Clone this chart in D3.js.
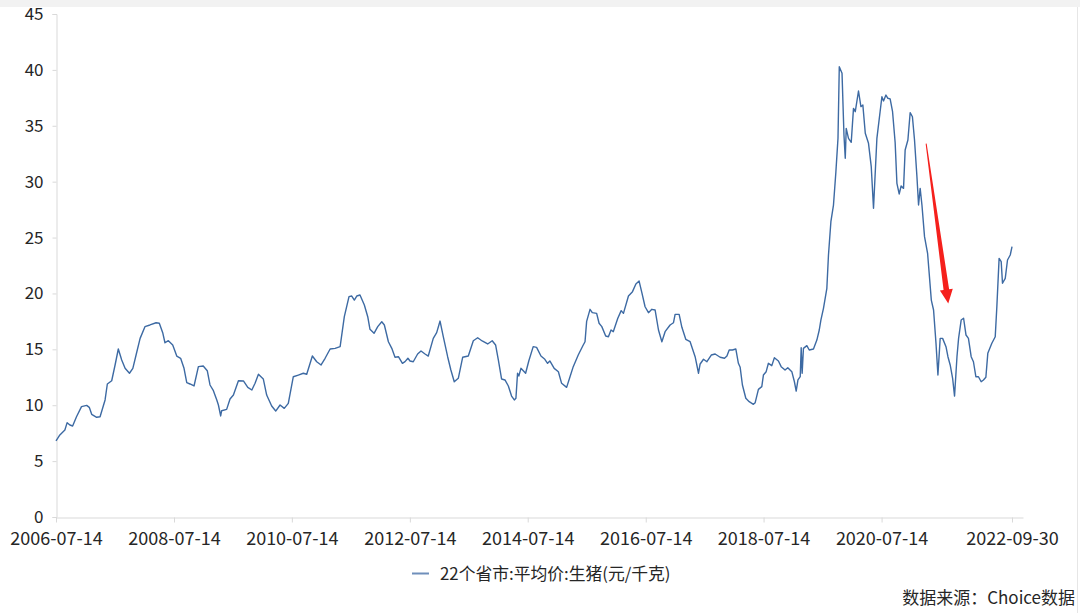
<!DOCTYPE html>
<html><head><meta charset="utf-8">
<script src="https://cdn.jsdelivr.net/npm/d3@7"></script>
<style>body{margin:0;background:#fff}svg{display:block}</style>
</head><body><svg id="c" width="1080" height="613"></svg>
<script>
const dates = [
"2006-07-14","2006-08-07","2006-09-07","2006-09-21","2006-10-08","2006-10-25","2006-11-18","2006-12-19",
"2007-01-20","2007-02-05","2007-02-20","2007-03-23","2007-04-13","2007-05-14","2007-05-28","2007-06-24","2007-07-15","2007-08-04","2007-08-25","2007-09-15","2007-10-12","2007-11-02","2007-11-22","2007-12-17",
"2008-01-16","2008-02-16","2008-03-25","2008-04-14","2008-05-05","2008-05-19","2008-06-09","2008-07-06","2008-07-31","2008-08-24","2008-09-14","2008-10-01","2008-10-21","2008-11-15","2008-12-12",
"2009-01-11","2009-02-05","2009-02-22","2009-03-15","2009-04-05","2009-04-15","2009-04-29","2009-05-05","2009-06-05","2009-06-26","2009-07-17","2009-08-17","2009-09-17","2009-10-14","2009-11-08","2009-11-28","2009-12-19",
"2010-01-18","2010-02-08","2010-03-11","2010-04-05","2010-05-02","2010-05-28","2010-06-22","2010-07-23","2010-08-23","2010-09-23","2010-10-14","2010-11-18","2010-12-15",
"2011-01-11","2011-02-05","2011-03-08","2011-04-08","2011-05-09","2011-06-04","2011-07-03","2011-07-20","2011-08-05","2011-08-20","2011-09-09","2011-10-06","2011-10-27","2011-11-10","2011-12-05","2011-12-28",
"2012-01-22","2012-02-07","2012-03-03","2012-03-24","2012-04-13","2012-05-04","2012-05-29","2012-06-14","2012-07-02","2012-07-15","2012-08-04","2012-08-31","2012-09-21","2012-10-16","2012-11-05","2012-12-06","2012-12-27",
"2013-01-17","2013-02-06","2013-03-05","2013-03-25","2013-04-15","2013-05-10","2013-06-06","2013-07-11","2013-08-11","2013-09-07","2013-10-05","2013-11-08","2013-12-06","2013-12-27",
"2014-01-13","2014-02-02","2014-02-23","2014-03-16","2014-04-05","2014-04-22","2014-05-02","2014-05-12","2014-05-20","2014-06-02","2014-07-01","2014-07-21","2014-08-17","2014-09-07","2014-10-04","2014-10-28","2014-11-14","2014-11-28","2014-12-25",
"2015-01-20","2015-02-09","2015-03-12","2015-04-02","2015-04-22","2015-05-23","2015-06-23","2015-07-04","2015-07-14","2015-08-04","2015-08-18","2015-09-14","2015-09-29","2015-10-16","2015-11-09","2015-11-26","2015-12-12","2015-12-26",
"2016-01-23","2016-02-13","2016-02-27","2016-03-29","2016-04-23","2016-05-14","2016-06-03","2016-06-20","2016-07-10","2016-07-31","2016-08-21","2016-09-10","2016-10-01","2016-10-22","2016-11-11","2016-12-12",
"2017-01-02","2017-01-12","2017-02-06","2017-02-23","2017-03-19","2017-04-15","2017-05-16","2017-06-06","2017-06-16","2017-07-07","2017-07-28","2017-08-24","2017-09-17","2017-10-18","2017-11-14","2017-11-29","2017-12-13",
"2018-01-02","2018-01-23","2018-02-08","2018-02-19","2018-03-05","2018-03-26","2018-04-16","2018-05-12","2018-05-23","2018-06-12","2018-07-03","2018-07-13","2018-07-30","2018-08-13","2018-09-03","2018-09-19","2018-10-14","2018-10-31","2018-11-24","2018-12-11",
"2019-01-05","2019-01-21","2019-02-01","2019-02-12","2019-02-26","2019-03-04","2019-03-10","2019-03-18","2019-04-08","2019-04-23","2019-05-19","2019-06-09","2019-06-24","2019-07-04","2019-07-20","2019-08-10","2019-08-20","2019-09-04","2019-09-20","2019-10-05","2019-10-18","2019-10-26","2019-11-12","2019-11-24","2019-12-02","2019-12-08","2019-12-22",
"2020-01-08","2020-01-22","2020-02-02","2020-02-22","2020-03-08","2020-03-20","2020-04-04","2020-04-24","2020-05-11","2020-05-25","2020-06-15","2020-07-16","2020-07-26","2020-08-10","2020-08-22","2020-09-05","2020-09-20","2020-10-06","2020-10-17","2020-10-31","2020-11-12","2020-11-27","2020-12-07","2020-12-24",
"2021-01-07","2021-01-21","2021-02-03","2021-02-18","2021-02-28","2021-03-10","2021-03-21","2021-04-06","2021-04-25","2021-05-18","2021-06-01","2021-06-16","2021-06-28","2021-07-12","2021-07-27","2021-08-17","2021-08-29","2021-09-12","2021-09-27","2021-10-09","2021-10-24","2021-11-03","2021-11-19","2021-12-04","2021-12-19",
"2022-01-03","2022-01-20","2022-02-03","2022-02-18","2022-03-06","2022-03-23","2022-04-06","2022-04-21","2022-05-03","2022-05-28","2022-06-18","2022-06-28","2022-07-12","2022-07-25","2022-08-02","2022-08-19","2022-09-02","2022-09-19","2022-09-30"
];
const prices = [
6.8,7.34,7.78,8.44,8.23,8.14,8.97,9.87,
9.99,9.81,9.19,8.92,8.97,10.47,11.9,12.19,13.6,15.03,14.05,13.3,12.86,13.3,14.49,15.98,
17.03,17.18,17.38,17.33,16.49,15.59,15.77,15.39,14.4,14.2,13.3,12.02,11.9,11.72,13.45,
13.51,13.09,11.81,11.3,10.47,10.02,9.04,9.51,9.63,10.55,10.91,12.19,12.17,11.6,11.36,11.96,12.77,
12.35,10.91,9.93,9.48,10.02,9.72,10.17,12.55,12.7,12.86,12.77,14.4,13.89,
13.6,14.2,15.03,15.09,15.24,17.92,19.71,19.77,19.41,19.77,19.86,18.97,17.92,16.79,16.43,17.03,
17.47,17.18,15.68,15.09,14.29,14.34,13.75,13.9,14.2,13.96,13.89,14.58,14.85,14.58,14.4,15.98,16.49,
17.53,16.13,14.34,13.15,12.1,12.41,14.29,14.4,15.77,16.04,15.75,15.48,15.77,15.39,
14.05,12.35,12.26,11.72,10.82,10.47,10.62,12.86,12.61,13.3,12.86,13.98,15.24,15.18,14.4,14.11,13.75,13.96,13.3,
13.0,11.96,11.6,12.55,13.45,14.49,15.39,15.68,17.5,18.58,18.28,18.22,17.33,17.03,16.19,16.13,16.73,16.58,
17.78,18.46,18.22,19.77,20.16,20.84,21.11,20.07,18.81,18.28,18.58,18.52,16.73,15.68,16.58,17.18,
17.38,18.13,18.13,16.97,15.9,15.68,14.34,12.86,13.69,14.11,13.89,14.49,14.58,14.29,14.2,14.4,14.94,
14.94,15.03,13.75,13.39,11.81,10.62,10.32,10.08,10.23,11.42,11.66,12.7,13.0,13.75,13.54,14.25,13.96,13.45,13.15,13.36,
13.0,12.1,11.27,12.26,12.55,15.15,12.86,15.09,15.33,14.94,15.03,15.83,16.73,17.62,18.67,20.46,23.44,26.42,27.91,30.89,33.88,40.29,39.69,34.17,32.09,34.77,33.88,
33.52,36.56,36.26,38.11,36.71,36.86,34.33,33.43,31.34,27.62,33.88,37.6,37.22,37.75,37.46,37.4,36.26,33.5,29.85,28.9,29.61,29.4,32.83,33.73,
36.17,35.81,33.73,30.44,27.91,29.4,27.91,25.08,23.59,19.41,18.52,15.54,12.7,15.98,15.98,15.24,14.34,13.6,12.41,10.82,14.34,15.98,17.62,17.78,16.28,
15.98,14.34,13.89,12.55,12.55,12.1,12.26,12.5,14.64,15.54,16.13,18.81,23.14,22.84,20.91,21.35,22.99,23.44,24.18
];
const yTicks = [0,5,10,15,20,25,30,35,40,45];
const xTickDates = ["2006-07-14","2008-07-14","2010-07-14","2012-07-14","2014-07-14","2016-07-14","2018-07-14","2020-07-14","2022-09-30"];
const xDomain = ["2006-07-14","2022-12-07"];
const seriesName = "22个省市:平均价:生猪(元/千克)";
const sourceNote = "数据来源：Choice数据";
const arrowFrom = ["2021-04-16", 33.4];
const arrowTo = ["2021-08-31", 19.1];

const parse = d3.timeParse("%Y-%m-%d");
const fmt = d3.timeFormat("%Y-%m-%d");
const svg = d3.select("#c");
const FONT = "'Noto Sans CJK SC','Noto Sans',sans-serif";
const x = d3.scaleTime().domain(xDomain.map(parse)).range([56, 1023]);
const y = d3.scaleLinear().domain([0, 45]).range([517, 14]);

svg.append("rect").attr("x",0).attr("y",0).attr("width",1080).attr("height",7).attr("fill","#f2f2f2");
svg.append("line").attr("x1",1077.5).attr("x2",1077.5).attr("y1",7).attr("y2",613).attr("stroke","#e6e6e6");

// y axis
const yAxis = svg.append("g").attr("transform","translate(56.5,0)")
  .call(d3.axisLeft(y).tickValues(yTicks).tickSize(4).tickPadding(9).tickFormat(d3.format("d")));
yAxis.select(".domain").attr("stroke","#d9d9d9");
yAxis.selectAll(".tick line").attr("stroke","#d9d9d9");
yAxis.selectAll("text").attr("font-family",FONT).attr("font-size",17).attr("fill","#262626");

// x axis
const xAxis = svg.append("g").attr("transform","translate(0,517.5)")
  .call(d3.axisBottom(x).tickValues(xTickDates.map(parse)).tickSize(5).tickPadding(10).tickFormat(fmt).tickSizeOuter(0));
xAxis.select(".domain").attr("stroke","#d9d9d9");
xAxis.selectAll(".tick line").attr("stroke","#d9d9d9");
xAxis.selectAll("text").attr("font-family",FONT).attr("font-size",18).attr("fill","#262626");

// line
const data = dates.map((d,i)=>({date:parse(d), v:prices[i]}));
svg.append("path").datum(data)
  .attr("fill","none").attr("stroke","#3d6aa3").attr("stroke-width",1.4).attr("stroke-linejoin","round")
  .attr("d", d3.line().x(d=>x(d.date)).y(d=>y(d.v)));

// arrow annotation
(function(){
  const x0 = x(parse(arrowFrom[0])), y0 = y(arrowFrom[1]);
  const x1 = x(parse(arrowTo[0])), y1 = y(arrowTo[1]);
  const dx = x1-x0, dy = y1-y0, L = Math.hypot(dx,dy);
  const ux = dx/L, uy = dy/L, px = -uy, py = ux;
  const headL = 14, headW = 6.5, w0 = 0.5, w1 = 2.8;
  const bx = x1-ux*headL, by = y1-uy*headL;
  const pts = [
    [x0+px*w0, y0+py*w0],[bx+px*w1, by+py*w1],[bx+px*headW, by+py*headW],[x1,y1],
    [bx-px*headW, by-py*headW],[bx-px*w1, by-py*w1],[x0-px*w0, y0-py*w0]
  ];
  svg.append("polygon").attr("points", pts.map(p=>p.join(",")).join(" ")).attr("fill","#f5201c");
})();

// legend
const lg = svg.append("g");
lg.append("line").attr("x1",412).attr("x2",429).attr("y1",573.5).attr("y2",573.5).attr("stroke","#6f8fbb").attr("stroke-width",2);
lg.append("text").attr("x",440).attr("y",573).attr("dominant-baseline","central")
  .attr("font-family",FONT).attr("font-size",16.8).attr("fill","#262626").text(seriesName);

svg.append("text").attr("x",1075).attr("y",596).attr("dominant-baseline","central").attr("text-anchor","end")
  .attr("font-family",FONT).attr("font-size",17).attr("fill","#262626").text(sourceNote);
</script></body></html>
